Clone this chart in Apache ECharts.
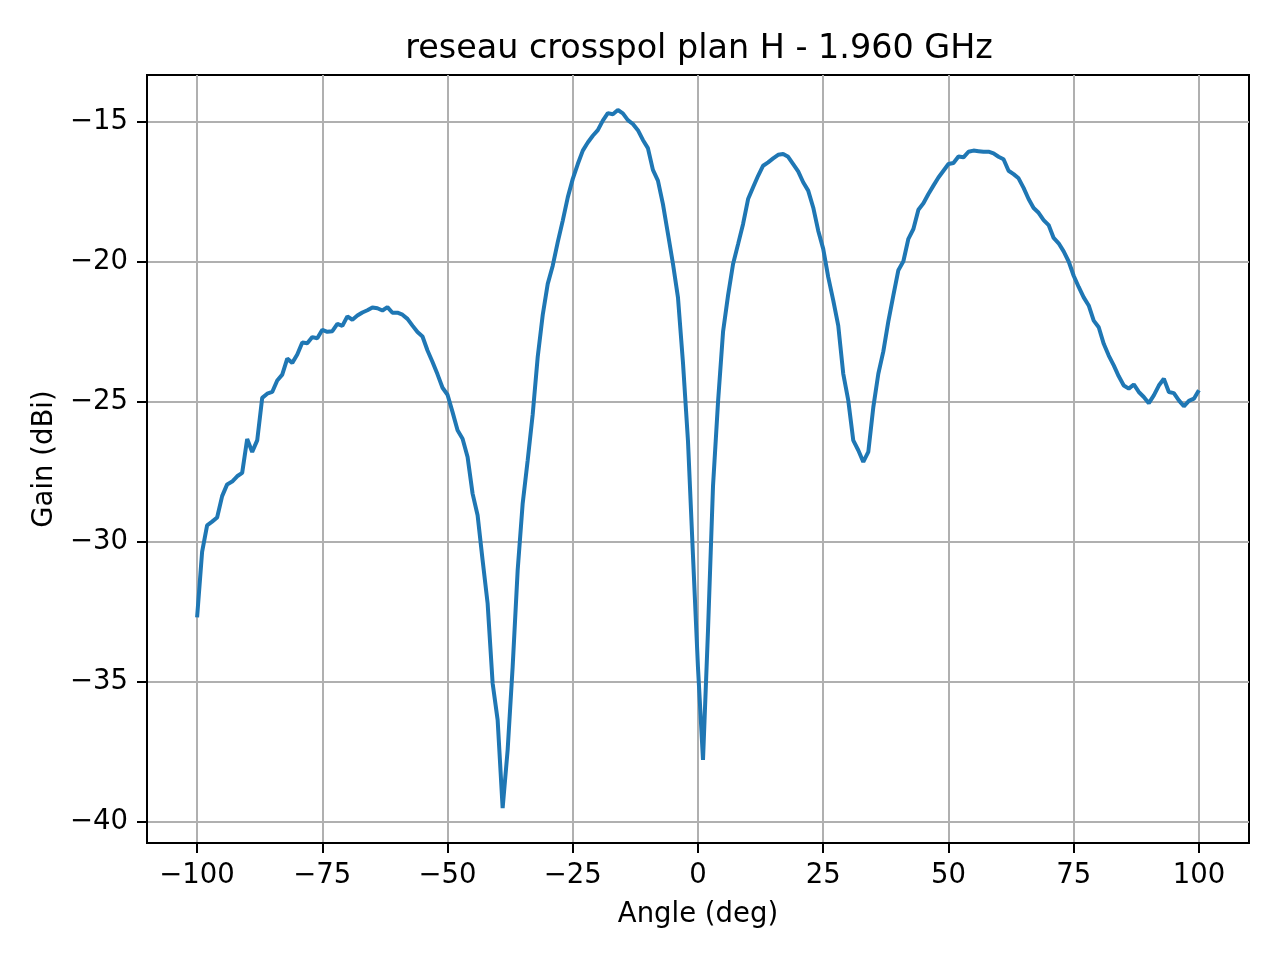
<!DOCTYPE html>
<html>
<head>
<meta charset="utf-8">
<script src="https://cdn.jsdelivr.net/npm/echarts@6/dist/echarts.min.js"></script>
<style>
html, body { margin: 0; padding: 0; background: #fff; }
#gainchart { width: 1280px; height: 960px; }
</style>
</head>
<body>
<div id="gainchart"></div>
<script>
// measured crosspol gain, H plane, 1 deg steps
var angles = [
    -100, -99, -98, -97, -96, -95, -94, -93, -92, -91, -90, -89, -88, -87, -86, -85, -84, -83, -82, -81,
    -80, -79, -78, -77, -76, -75, -74, -73, -72, -71, -70, -69, -68, -67, -66, -65, -64, -63, -62, -61,
    -60, -59, -58, -57, -56, -55, -54, -53, -52, -51, -50, -49, -48, -47, -46, -45, -44, -43, -42, -41,
    -40, -39, -38, -37, -36, -35, -34, -33, -32, -31, -30, -29, -28, -27, -26, -25, -24, -23, -22, -21,
    -20, -19, -18, -17, -16, -15, -14, -13, -12, -11, -10, -9, -8, -7, -6, -5, -4, -3, -2, -1,
    0, 1, 2, 3, 4, 5, 6, 7, 8, 9, 10, 11, 12, 13, 14, 15, 16, 17, 18, 19,
    20, 21, 22, 23, 24, 25, 26, 27, 28, 29, 30, 31, 32, 33, 34, 35, 36, 37, 38, 39,
    40, 41, 42, 43, 44, 45, 46, 47, 48, 49, 50, 51, 52, 53, 54, 55, 56, 57, 58, 59,
    60, 61, 62, 63, 64, 65, 66, 67, 68, 69, 70, 71, 72, 73, 74, 75, 76, 77, 78, 79,
    80, 81, 82, 83, 84, 85, 86, 87, 88, 89, 90, 91, 92, 93, 94, 95, 96, 97, 98, 99,
    100
];
var gain = [
    -32.70, -30.36, -29.41, -29.28, -29.13, -28.37, -27.95, -27.85, -27.66, -27.54, -26.33, -26.79, -26.38, -24.86, -24.71, -24.65, -24.24, -24.03, -23.46, -23.61,
    -23.31, -22.88, -22.91, -22.69, -22.73, -22.43, -22.50, -22.48, -22.22, -22.29, -21.95, -22.07, -21.92, -21.81, -21.73, -21.63, -21.66, -21.74, -21.62, -21.82,
    -21.82, -21.89, -22.04, -22.28, -22.51, -22.67, -23.17, -23.58, -24.02, -24.50, -24.75, -25.37, -26.02, -26.32, -26.97, -28.28, -29.05, -30.66, -32.20, -35.05,
    -36.36, -39.51, -37.43, -34.46, -31.01, -28.63, -27.09, -25.45, -23.40, -21.90, -20.79, -20.14, -19.30, -18.53, -17.70, -17.04, -16.51, -16.03, -15.74, -15.50,
    -15.30, -14.96, -14.69, -14.73, -14.58, -14.70, -14.94, -15.08, -15.30, -15.65, -15.94, -16.72, -17.10, -17.94, -19.00, -20.07, -21.27, -23.60, -26.40, -30.50,
    -34.50, -37.79, -33.15, -28.00, -25.00, -22.50, -21.20, -20.08, -19.37, -18.65, -17.76, -17.34, -16.93, -16.57, -16.45, -16.31, -16.18, -16.15, -16.25, -16.51,
    -16.77, -17.16, -17.46, -18.06, -18.89, -19.54, -20.55, -21.38, -22.28, -24.00, -24.95, -26.38, -26.73, -27.15, -26.79, -25.19, -24.00, -23.20, -22.13, -21.20,
    -20.30, -19.98, -19.18, -18.83, -18.14, -17.91, -17.58, -17.28, -16.99, -16.75, -16.51, -16.47, -16.24, -16.27, -16.07, -16.03, -16.05, -16.07, -16.07, -16.13,
    -16.25, -16.34, -16.75, -16.87, -17.02, -17.36, -17.76, -18.08, -18.25, -18.51, -18.69, -19.15, -19.34, -19.63, -19.99, -20.50, -20.90, -21.27, -21.56, -22.10,
    -22.34, -22.93, -23.35, -23.70, -24.09, -24.42, -24.53, -24.38, -24.65, -24.83, -25.05, -24.77, -24.42, -24.18, -24.65, -24.69, -24.95, -25.16, -24.97, -24.89,
    -24.59
];
var xTicks = [-100, -75, -50, -25, 0, 25, 50, 75, 100];
var yTicks = [-40, -35, -30, -25, -20, -15];
var titleText = 'reseau crosspol plan H - 1.960 GHz';
var xName = 'Angle (deg)';
var yName = 'Gain (dBi)';

var fontName = 'DejaVu Sans';

function minusSign(v) {
    return String(v).replace('-', '\u2212');
}

function buildPairs() {
    var pairs = [];
    for (var i = 0; i < angles.length; i++) {
        pairs.push([angles[i], gain[i]]);
    }
    return pairs;
}

function axisStyle(ticks, name, gap, margin) {
    return {
        type: 'value',
        name: name,
        nameLocation: 'middle',
        nameGap: gap,
        nameTextStyle: { fontFamily: fontName, fontSize: 27.5, color: '#000' },
        axisLine: { show: true, onZero: false, lineStyle: { color: '#000', width: 2 } },
        axisTick: { show: true, inside: false, length: 10, customValues: ticks, lineStyle: { color: '#000', width: 2 } },
        axisLabel: { customValues: ticks, margin: margin, formatter: minusSign, fontFamily: fontName, fontSize: 27.5, color: '#000' },
        splitLine: { show: true, lineStyle: { color: '#b0b0b0', width: 2 } }
    };
}

function createGainChart(chart) {
    var xAxis = axisStyle(xTicks, xName, 58, 19);
    xAxis.min = -110;
    xAxis.max = 110;
    var yAxis = axisStyle(yTicks, yName, 88, 19);
    yAxis.min = -40.757;
    yAxis.max = -13.33;
    var option = {
        animation: false,
        backgroundColor: '#fff',
        title: {
            text: titleText,
            left: 694,
            top: 28,
            textAlign: 'center',
            textStyle: { fontFamily: fontName, fontSize: 33.4, fontWeight: 'normal', color: '#000' }
        },
        grid: {
            left: 147,
            right: 31,
            top: 75,
            bottom: 117,
            show: true,
            borderColor: '#000',
            borderWidth: 2,
            containLabel: false
        },
        xAxis: xAxis,
        yAxis: yAxis,
        series: [{
            type: 'line',
            data: buildPairs(),
            symbol: 'none',
            showSymbol: false,
            lineStyle: { color: '#1f77b4', width: 4 },
            z: 5
        }]
    };
    chart.setOption(option);
}

var gainChart = echarts.init(document.getElementById('gainchart'));
createGainChart(gainChart);
</script>
</body>
</html>
